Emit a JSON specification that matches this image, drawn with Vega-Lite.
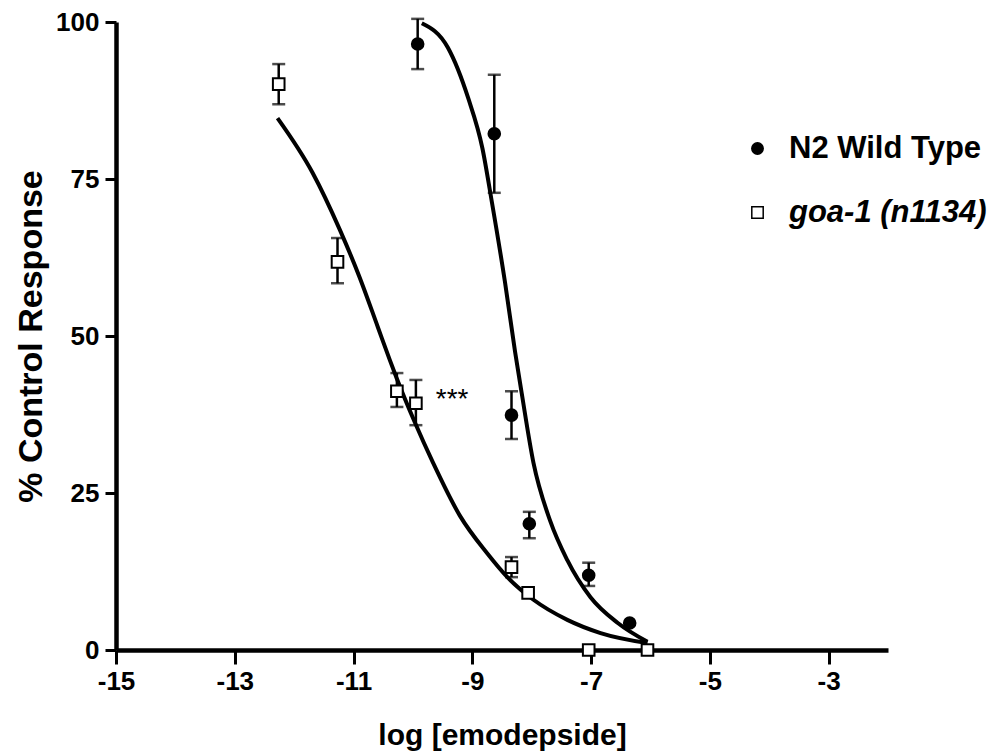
{
  "$schema": "https://vega.github.io/schema/vega-lite/v6.json",
  "width": 772,
  "height": 628,
  "autosize": {"type": "none"},
  "padding": {"left": 116, "top": 22, "right": 117, "bottom": 104},
  "background": "white",
  "config": {
    "view": {"stroke": null},
    "font": "Liberation Sans",
    "axis": {
      "grid": false,
      "domainColor": "black",
      "domainWidth": 4.5,
      "tickColor": "black",
      "tickWidth": 3,
      "labelColor": "black",
      "labelFont": "Liberation Sans",
      "labelFontSize": 26,
      "labelFontWeight": "bold",
      "titleColor": "black",
      "titleFont": "Liberation Sans",
      "titleFontSize": 30,
      "titleFontWeight": "bold"
    },
    "legend": {"padding": 0}
  },
  "datasets": {
    "points": [
      {"series": "N2 Wild Type", "x": -9.92, "y": 96.5, "lo": 92.5, "hi": 100.5},
      {"series": "N2 Wild Type", "x": -8.63, "y": 82.2, "lo": 72.8, "hi": 91.6},
      {"series": "N2 Wild Type", "x": -8.34, "y": 37.4, "lo": 33.6, "hi": 41.2},
      {"series": "N2 Wild Type", "x": -8.04, "y": 20.1, "lo": 17.8, "hi": 22.0},
      {"series": "N2 Wild Type", "x": -7.04, "y": 11.9, "lo": 10.2, "hi": 13.9},
      {"series": "N2 Wild Type", "x": -6.35, "y": 4.3, "lo": null, "hi": null},
      {"series": "goa-1 (n1134)", "x": -12.26, "y": 90.1, "lo": 86.9, "hi": 93.3},
      {"series": "goa-1 (n1134)", "x": -11.27, "y": 61.8, "lo": 58.4, "hi": 65.6},
      {"series": "goa-1 (n1134)", "x": -10.27, "y": 41.2, "lo": 38.7, "hi": 44.1},
      {"series": "goa-1 (n1134)", "x": -9.95, "y": 39.3, "lo": 35.8, "hi": 43.0},
      {"series": "goa-1 (n1134)", "x": -8.34, "y": 13.2, "lo": 11.6, "hi": 14.8},
      {"series": "goa-1 (n1134)", "x": -8.06, "y": 9.1, "lo": null, "hi": null},
      {"series": "goa-1 (n1134)", "x": -7.04, "y": 0.0, "lo": null, "hi": null},
      {"series": "goa-1 (n1134)", "x": -6.05, "y": 0.0, "lo": null, "hi": null}
    ],
    "curves": [
      {"curve": "N2", "x": -9.85, "y": 99.8},
      {"curve": "N2", "x": -9.41, "y": 95.9},
      {"curve": "N2", "x": -9.07, "y": 87.9},
      {"curve": "N2", "x": -8.83, "y": 79.9},
      {"curve": "N2", "x": -8.67, "y": 71.3},
      {"curve": "N2", "x": -8.45, "y": 58.6},
      {"curve": "N2", "x": -8.28, "y": 47.5},
      {"curve": "N2", "x": -8.17, "y": 41.0},
      {"curve": "N2", "x": -7.97, "y": 29.8},
      {"curve": "N2", "x": -7.69, "y": 20.6},
      {"curve": "N2", "x": -7.40, "y": 14.3},
      {"curve": "N2", "x": -7.01, "y": 8.4},
      {"curve": "N2", "x": -6.55, "y": 4.3},
      {"curve": "N2", "x": -6.05, "y": 1.3},
      {"curve": "goa", "x": -12.28, "y": 84.7},
      {"curve": "goa", "x": -11.69, "y": 76.0},
      {"curve": "goa", "x": -11.23, "y": 66.9},
      {"curve": "goa", "x": -10.90, "y": 59.4},
      {"curve": "goa", "x": -10.59, "y": 51.4},
      {"curve": "goa", "x": -10.39, "y": 46.2},
      {"curve": "goa", "x": -10.27, "y": 43.2},
      {"curve": "goa", "x": -9.97, "y": 36.3},
      {"curve": "goa", "x": -9.66, "y": 29.8},
      {"curve": "goa", "x": -9.21, "y": 21.4},
      {"curve": "goa", "x": -8.75, "y": 15.4},
      {"curve": "goa", "x": -8.41, "y": 11.6},
      {"curve": "goa", "x": -7.97, "y": 8.0},
      {"curve": "goa", "x": -7.40, "y": 4.8},
      {"curve": "goa", "x": -6.84, "y": 2.7},
      {"curve": "goa", "x": -6.05, "y": 1.1}
    ],
    "notes": [
      {"x": -9.34, "y": 39.8, "label": "***"}
    ]
  },
  "layer": [
    {
      "data": {"name": "points"},
      "transform": [{"filter": "datum.lo != null"}],
      "mark": {
        "type": "errorbar",
        "color": "black",
        "thickness": 2.5,
        "ticks": {"size": 13, "thickness": 2.5, "color": "black"}
      },
      "encoding": {
        "x": {"field": "x", "type": "quantitative", "title": "log [emodepside]"},
        "y": {"field": "lo", "type": "quantitative", "title": "% Control Response"},
        "y2": {"field": "hi"}
      }
    },
    {
      "data": {"name": "curves"},
      "mark": {"type": "line", "color": "black", "strokeWidth": 4, "interpolate": "monotone"},
      "encoding": {
        "x": {"field": "x", "type": "quantitative", "title": "log [emodepside]"},
        "y": {"field": "y", "type": "quantitative", "title": "% Control Response"},
        "detail": {"field": "curve"}
      }
    },
    {
      "data": {"name": "points"},
      "mark": {"type": "point", "filled": true, "size": 135, "stroke": "black", "strokeWidth": 2, "opacity": 1},
      "encoding": {
        "x": {
          "field": "x",
          "type": "quantitative",
          "title": "log [emodepside]",
          "scale": {"domain": [-15, -2], "nice": false, "zero": false},
          "axis": {
            "values": [-15, -13, -11, -9, -7, -5, -3],
            "labelExpr": "datum.value + ''",
            "tickSize": 14,
            "labelPadding": 4,
            "labelFlush": false,
            "titlePadding": 26
          }
        },
        "y": {
          "field": "y",
          "type": "quantitative",
          "title": "% Control Response",
          "scale": {"domain": [0, 100], "nice": false},
          "axis": {
            "values": [0, 25, 50, 75, 100],
            "labelExpr": "datum.value + ''",
            "tickSize": 11,
            "labelPadding": 6,
            "titleFontSize": 34,
            "titlePadding": 7
          }
        },
        "shape": {
          "field": "series",
          "type": "nominal",
          "scale": {"domain": ["N2 Wild Type", "goa-1 (n1134)"], "range": ["circle", "square"]},
          "legend": {
            "title": null,
            "orient": "none",
            "legendX": 626,
            "legendY": 111,
            "values": ["N2 Wild Type"],
            "symbolSize": 130,
            "symbolFillColor": "black",
            "labelFont": "Liberation Sans",
            "labelFontSize": 31,
            "labelFontWeight": "bold",
            "labelFontStyle": "normal",
            "labelColor": "black",
            "labelOffset": 16,
            "labelLimit": 400,
            "encode": {
              "symbols": {
                "fill": {"value": "black"},
                "stroke": {"value": "black"},
                "strokeWidth": {"value": 2}
              }
            }
          }
        },
        "fill": {
          "field": "series",
          "type": "nominal",
          "scale": {"domain": ["goa-1 (n1134)", "N2 Wild Type"], "range": ["white", "black"]},
          "legend": {
            "title": null,
            "orient": "none",
            "legendX": 626,
            "legendY": 175,
            "values": ["goa-1 (n1134)"],
            "symbolType": "square",
            "symbolSize": 130,
            "labelFont": "Liberation Sans",
            "labelFontSize": 31,
            "labelFontWeight": "bold",
            "labelFontStyle": "italic",
            "labelColor": "black",
            "labelOffset": 16,
            "labelLimit": 400,
            "encode": {
              "symbols": {
                "stroke": {"value": "black"},
                "strokeWidth": {"value": 2}
              }
            }
          }
        }
      }
    },
    {
      "data": {"name": "notes"},
      "mark": {"type": "text", "font": "Liberation Sans", "fontSize": 28, "color": "black", "align": "center", "baseline": "middle"},
      "encoding": {
        "x": {"field": "x", "type": "quantitative"},
        "y": {"field": "y", "type": "quantitative"},
        "text": {"field": "label"}
      }
    }
  ]
}
